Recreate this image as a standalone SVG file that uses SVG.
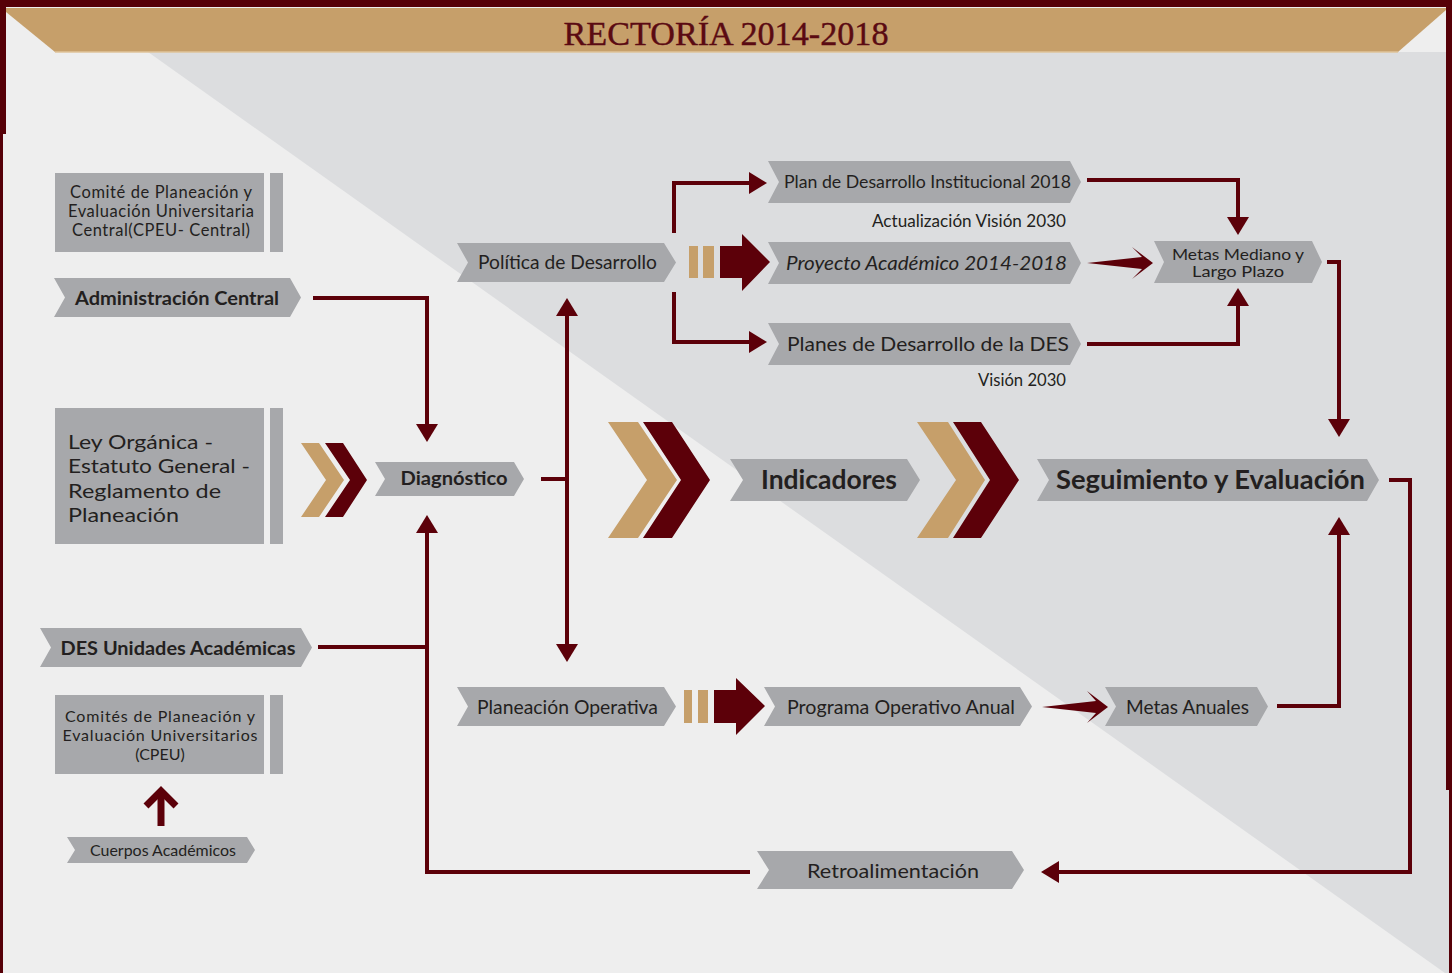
<svg xmlns="http://www.w3.org/2000/svg" width="1452" height="973" viewBox="0 0 1452 973">
<defs>
<style>
.box{fill:#a7a8ab}
.t{font-family:Lato,"Open Sans",sans-serif;fill:#231f20}
.b{font-weight:bold}
.c{text-anchor:middle}
.ln{fill:none;stroke:#5c0009;stroke-width:4}
.m{fill:#5c0009}
.tan{fill:#c69f6a}
</style>
<marker id="ah" viewBox="0 0 18 22" markerUnits="userSpaceOnUse" markerWidth="18" markerHeight="22" refX="0" refY="11" orient="auto-start-reverse">
<path d="M0,0 L18,11 L0,22 z" fill="#5c0009"/>
</marker>
</defs>
<!-- background -->
<rect x="0" y="0" width="1452" height="973" fill="#eeeeee"/>
<polygon points="148,52 1452,52 1452,978" fill="#dcdddf"/>
<polygon points="6,8 1446,8 1446,10 1398,52 55,52 6,12" class="tan"/>
<line x1="55" y1="52" x2="1398" y2="52" stroke="#dfc39a" stroke-width="1.5"/>
<rect x="0" y="0" width="1452" height="7" fill="#560008"/>
<rect x="0" y="0" width="6" height="134" fill="#560008"/>
<rect x="0" y="134" width="3" height="839" fill="#560008"/>
<rect x="1446" y="0" width="6" height="790" fill="#560008"/>
<rect x="1449" y="790" width="3" height="183" fill="#560008"/>
<text x="726" y="45" text-anchor="middle" font-family="'Liberation Serif',serif" font-size="33" fill="#5a0a12" stroke="#5a0a12" stroke-width="0.4" textLength="325" lengthAdjust="spacingAndGlyphs">RECTORÍA 2014-2018</text>

<g id="connectors">
<path class="ln" d="M313,298 H427 V424" marker-end="url(#ah)"/>
<path class="ln" d="M318,647 H427"/>
<path class="ln" d="M750,872 H427 V533" marker-end="url(#ah)"/>
<path class="ln" d="M541,479 H567"/>
<path class="ln" d="M567,316 V644" marker-start="url(#ah)" marker-end="url(#ah)"/>
<path class="ln" d="M674,233 V183 H749" marker-end="url(#ah)"/>
<path class="ln" d="M674,292 V342 H749" marker-end="url(#ah)"/>
<path class="ln" d="M1087,180 H1238 V217" marker-end="url(#ah)"/>
<path class="ln" d="M1087,344 H1238 V306" marker-end="url(#ah)"/>
<path class="ln" d="M1327,262 H1339 V419" marker-end="url(#ah)"/>
<path class="ln" d="M1277,706 H1339 V535" marker-end="url(#ah)"/>
<path class="ln" d="M1389,480 H1410 V872 H1059" marker-end="url(#ah)"/>
<polygon class="m" points="1087,263 1142,257 1132,247 1153,263 1132,279 1142,269"/>
<polygon class="m" points="1042,707 1096,701 1087,691 1108,707 1087,723 1096,713"/>
<rect class="tan" x="689" y="246" width="9" height="32"/>
<rect class="tan" x="703" y="246" width="11" height="32"/>
<polygon class="m" points="720,246 742,246 742,234 770,262 742,291 742,278 720,278"/>
<rect class="tan" x="684" y="690" width="8" height="33"/>
<rect class="tan" x="698" y="690" width="10" height="33"/>
<polygon class="m" points="714,690 736,690 736,678 765,706 736,735 736,723 714,723"/>
<polygon class="tan" points="301,443 319,443 344,480 319,517 301,517 326,480"/>
<polygon class="m" points="325,443 343,443 367,480 343,517 325,517 350,480"/>
<polygon class="tan" points="608,422 638,422 677,480 638,538 608,538 647,480"/>
<polygon class="m" points="643,422 672,422 710,480 672,538 643,538 681,480"/>
<polygon class="tan" points="917,422 948,422 985,480 948,538 917,538 956,480"/>
<polygon class="m" points="953,422 981,422 1019,480 981,538 953,538 990,480"/>
<path d="M146,806 L161,791 L176,806" fill="none" stroke="#5c0009" stroke-width="7"/>
<path d="M161,792 V826" fill="none" stroke="#5c0009" stroke-width="7"/>
</g>

<g id="cpeu-central">
<rect class="box" x="55" y="173" width="209" height="79"/>
<rect class="box" x="270" y="173" width="13" height="79"/>
<text class="t c" font-size="16.5"><tspan x="161" y="198" textLength="182">Comité de Planeación y</tspan><tspan x="161" y="217" textLength="186">Evaluación Universitaria</tspan><tspan x="161" y="236" textLength="178">Central(CPEU- Central)</tspan></text>
</g>
<g id="admin-central">
<polygon class="box" points="54,278 290,278 301,297.5 290,317 54,317 65,297.5"/>
<text class="t b c" x="177" y="305" font-size="19" textLength="204" lengthAdjust="spacingAndGlyphs">Administración Central</text>
</g>
<g id="ley-organica">
<rect class="box" x="55" y="408" width="209" height="136"/>
<rect class="box" x="270" y="408" width="13" height="136"/>
<text class="t" font-size="20"><tspan x="68" y="449" textLength="145" lengthAdjust="spacingAndGlyphs">Ley Orgánica -</tspan><tspan x="68" y="473" textLength="182" lengthAdjust="spacingAndGlyphs">Estatuto General -</tspan><tspan x="68" y="498" textLength="153" lengthAdjust="spacingAndGlyphs">Reglamento de</tspan><tspan x="68" y="522" textLength="111" lengthAdjust="spacingAndGlyphs">Planeación</tspan></text>
</g>
<g id="diagnostico">
<polygon class="box" points="375,462 514,462 524,479 514,496 375,496 385,479"/>
<text class="t b c" x="454" y="485" font-size="18" textLength="107" lengthAdjust="spacingAndGlyphs">Diagnóstico</text>
</g>
<g id="des-unidades">
<polygon class="box" points="40,628 301,628 312,647.5 301,667 40,667 51,647.5"/>
<text class="t b c" x="178" y="655" font-size="19" textLength="235" lengthAdjust="spacingAndGlyphs">DES Unidades Académicas</text>
</g>
<g id="cpeu">
<rect class="box" x="55" y="695" width="209" height="79"/>
<rect class="box" x="270" y="695" width="13" height="79"/>
<text class="t c" font-size="16"><tspan x="160" y="722" textLength="190">Comités de Planeación y</tspan><tspan x="160" y="741" textLength="195">Evaluación Universitarios</tspan><tspan x="160" y="760">(CPEU)</tspan></text>
</g>
<g id="cuerpos">
<polygon class="box" points="67,837 247,837 255,850 247,863 67,863 75,850"/>
<text class="t c" x="163" y="856" font-size="15" textLength="146" lengthAdjust="spacingAndGlyphs">Cuerpos Académicos</text>
</g>
<g id="politica">
<polygon class="box" points="457,243 664,243 676,262.5 664,282 457,282 468,262.5"/>
<text class="t c" x="567.5" y="269" font-size="19" textLength="179" lengthAdjust="spacingAndGlyphs">Política de Desarrollo</text>
</g>
<g id="plan-institucional">
<polygon class="box" points="768,161 1070,161 1081,182 1070,203 768,203 779,182"/>
<text class="t c" x="927.5" y="188" font-size="18" textLength="287" lengthAdjust="spacingAndGlyphs">Plan de Desarrollo Institucional 2018</text>
<text class="t" x="872" y="227" font-size="16.5" textLength="194" lengthAdjust="spacingAndGlyphs">Actualización Visión 2030</text>
</g>
<g id="proyecto">
<polygon class="box" points="768,242 1070,242 1081,263 1070,284 768,284 779,263"/>
<text class="t c" x="926.5" y="270" font-size="20" font-style="italic" textLength="281" lengthAdjust="spacingAndGlyphs">Proyecto Académico 2014-2018</text>
</g>
<g id="planes-des">
<polygon class="box" points="768,323 1070,323 1081,344 1070,365 768,365 779,344"/>
<text class="t c" x="928" y="351" font-size="20" textLength="282" lengthAdjust="spacingAndGlyphs">Planes de Desarrollo de la DES</text>
<text class="t" x="978" y="386" font-size="16.5" textLength="88" lengthAdjust="spacingAndGlyphs">Visión 2030</text>
</g>
<g id="metas-mediano">
<polygon class="box" points="1154,241 1312,241 1322,262 1312,283 1154,283 1164,262"/>
<text class="t c" font-size="16"><tspan x="1238" y="260" textLength="132" lengthAdjust="spacingAndGlyphs">Metas Mediano y</tspan><tspan x="1238" y="277" textLength="92" lengthAdjust="spacingAndGlyphs">Largo Plazo</tspan></text>
</g>
<g id="indicadores">
<polygon class="box" points="730,459 907,459 920,480 907,501 730,501 743,480"/>
<text class="t b c" x="829" y="489" font-size="26" textLength="136" lengthAdjust="spacingAndGlyphs">Indicadores</text>
</g>
<g id="seguimiento">
<polygon class="box" points="1037,459 1367,459 1379,480 1367,501 1037,501 1049,480"/>
<text class="t b c" x="1210.5" y="489" font-size="26" textLength="309" lengthAdjust="spacingAndGlyphs">Seguimiento y Evaluación</text>
</g>
<g id="planeacion-operativa">
<polygon class="box" points="457,687 664,687 676,706.5 664,726 457,726 468,706.5"/>
<text class="t c" x="567.5" y="714" font-size="19" textLength="181" lengthAdjust="spacingAndGlyphs">Planeación Operativa</text>
</g>
<g id="programa">
<polygon class="box" points="764,687 1020,687 1032,706.5 1020,726 764,726 775,706.5"/>
<text class="t c" x="901" y="714" font-size="19" textLength="228" lengthAdjust="spacingAndGlyphs">Programa Operativo Anual</text>
</g>
<g id="metas-anuales">
<polygon class="box" points="1105,687 1257,687 1268,706.5 1257,726 1105,726 1116,706.5"/>
<text class="t c" x="1187.5" y="714" font-size="19" textLength="123" lengthAdjust="spacingAndGlyphs">Metas Anuales</text>
</g>
<g id="retroalimentacion">
<polygon class="box" points="757,851 1012,851 1024,870 1012,889 757,889 769,870"/>
<text class="t c" x="893" y="878" font-size="19" textLength="172" lengthAdjust="spacingAndGlyphs">Retroalimentación</text>
</g>
</svg>
